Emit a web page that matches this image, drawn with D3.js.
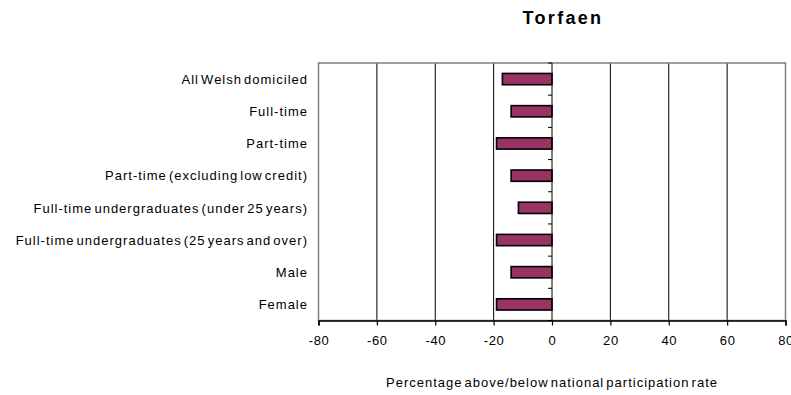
<!DOCTYPE html>
<html>
<head>
<meta charset="utf-8">
<script src="https://cdn.jsdelivr.net/npm/d3@7"></script>
<style>
  html, body { margin: 0; padding: 0; background: #ffffff; }
  svg { display: block; }
  text { font-family: "Liberation Sans", Arial, sans-serif; fill: #000; }
</style>
</head>
<body>
<svg id="chart" width="791" height="395"></svg>
<script>
// Participation rate relative to the national rate, by group
const title = "Torfaen";
const categories = [
  "All Welsh domiciled",
  "Full-time",
  "Part-time",
  "Part-time (excluding low credit)",
  "Full-time undergraduates (under 25 years)",
  "Full-time undergraduates (25 years and over)",
  "Male",
  "Female"
];
const values = [-17, -14, -19, -14, -11.5, -19, -14, -19];
const xTicks = [-80, -60, -40, -20, 0, 20, 40, 60, 80];
const xTitle = "Percentage above/below national participation rate";

const svg = d3.select("#chart");
const plot = { left: 318.5, right: 785.5, top: 63, bottom: 320.5 };

const x = d3.scaleLinear().domain([-80, 80]).range([plot.left, plot.right]);
const y = d3.scaleBand().domain(categories)
  .range([plot.top, plot.bottom])
  .paddingInner(0.65).paddingOuter(0.325);

// vertical gridlines
svg.append("g").selectAll("line")
  .data(xTicks.filter(t => t !== -80 && t !== 80 && t !== 0))
  .join("line")
  .attr("x1", d => x(d)).attr("x2", d => x(d))
  .attr("y1", plot.top).attr("y2", plot.bottom)
  .attr("stroke", "#000").attr("stroke-width", 1);

// plot frame
svg.append("rect")
  .attr("x", plot.left).attr("y", plot.top)
  .attr("width", plot.right - plot.left).attr("height", plot.bottom - plot.top)
  .attr("fill", "none").attr("stroke", "#808080").attr("stroke-width", 1.5);

// bars
svg.append("g").selectAll("rect")
  .data(categories.map((c, i) => ({ c, v: values[i] })))
  .join("rect")
  .attr("x", d => x(Math.min(0, d.v)))
  .attr("width", d => Math.abs(x(d.v) - x(0)))
  .attr("y", d => y(d.c))
  .attr("height", y.bandwidth())
  .attr("fill", "#993366")
  .attr("stroke", "#000").attr("stroke-width", 1.6);

// category axis at zero with ticks on band boundaries
const gap = (y.step() - y.bandwidth()) / 2;
const bounds = categories.map(c => y(c) - gap).concat([plot.bottom]);
svg.append("line")
  .attr("x1", x(0)).attr("x2", x(0))
  .attr("y1", plot.top).attr("y2", plot.bottom)
  .attr("stroke", "#000").attr("stroke-width", 1);
svg.append("g").selectAll("line")
  .data(bounds)
  .join("line")
  .attr("x1", x(0) - 4).attr("x2", x(0))
  .attr("y1", d => d).attr("y2", d => d)
  .attr("stroke", "#000").attr("stroke-width", 1);

// category labels
svg.append("g").selectAll("text")
  .data(categories)
  .join("text")
  .attr("x", 308)
  .attr("y", d => y(d) + y.bandwidth() / 2 + 4.8)
  .attr("text-anchor", "end")
  .attr("font-size", 13)
  .style("letter-spacing", "1px")
  .style("word-spacing", "-2.5px")
  .text(d => d);

// value axis along the bottom
const xAxis = d3.axisBottom(x).tickValues(xTicks).tickSize(5).tickPadding(10)
  .tickFormat(d => String(d));
const gx = svg.append("g")
  .attr("transform", `translate(0,${plot.bottom})`)
  .call(xAxis);
gx.select(".domain").attr("stroke", "#000").attr("stroke-width", 1.5);
gx.selectAll(".tick line").attr("stroke", "#000").attr("stroke-width", 1.2);
gx.selectAll(".tick text")
  .attr("font-family", "Liberation Sans, Arial, sans-serif")
  .attr("font-size", 13)
  .attr("fill", "#000")
  .style("letter-spacing", "0.6px");

// axis title
svg.append("text")
  .attr("x", 552).attr("y", 387)
  .attr("text-anchor", "middle")
  .attr("font-size", 13)
  .style("letter-spacing", "1px")
  .style("word-spacing", "-2.5px")
  .text(xTitle);

// chart title
svg.append("text")
  .attr("x", 563).attr("y", 24)
  .attr("text-anchor", "middle")
  .attr("font-size", 18)
  .attr("font-weight", "bold")
  .style("letter-spacing", "2.3px")
  .text(title);
</script>
</body>
</html>
